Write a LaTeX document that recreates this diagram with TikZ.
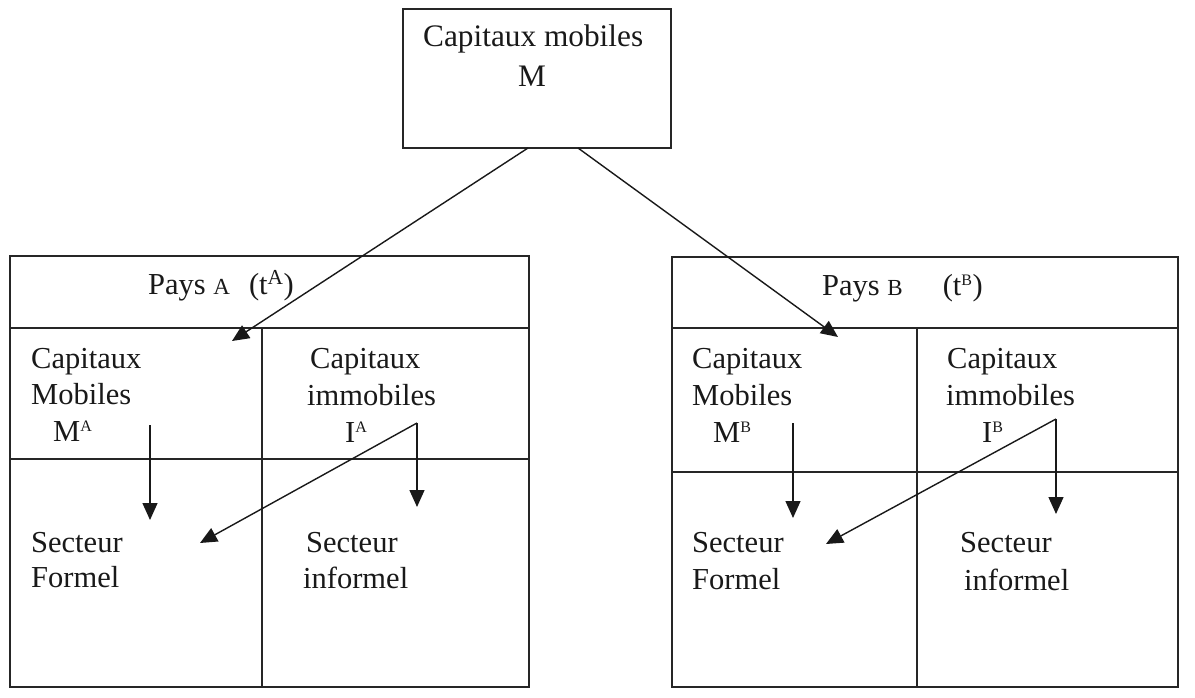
\documentclass[tikz,border=0pt]{standalone}
\usepackage{fontspec}
\setmainfont{Liberation Serif}
\usetikzlibrary{arrows.meta}
\begin{document}
\begin{tikzpicture}[x=1pt,y=-1pt,
  cell/.style={draw=black!85,line width=1.8pt,inner sep=0pt,outer sep=0pt,anchor=north west},
  lbl/.style={inner sep=0pt,anchor=base west,text=black!90,font=\fontsize{30.5}{36}\selectfont},
  flow/.style={draw=black!90,line width=1.4pt,-{Triangle[length=17pt,width=15pt]}}]
\useasboundingbox (0,0) rectangle (1195,698);
% top box
\node[cell,minimum width=268pt,minimum height=139pt] (top) at (403,9) {};
\node[lbl,font=\fontsize{31.3}{36}\selectfont] (topt1) at (423,47) {Capitaux mobiles};
\node[lbl,font=\fontsize{31.3}{36}\selectfont] (topt2) at (518,87) {M};
% country A
\node[cell,minimum width=519pt,minimum height=72pt] (Ahead) at (10,256) {};
\node[cell,minimum width=252pt,minimum height=131pt] (AMc) at (10,328) {};
\node[cell,minimum width=267pt,minimum height=131pt] (AIc) at (262,328) {};
\node[cell,minimum width=252pt,minimum height=228pt] (AFc) at (10,459) {};
\node[cell,minimum width=267pt,minimum height=228pt] (AInf) at (262,459) {};
\node[lbl] (Apays) at (148,294) {Pays {\fontsize{23}{23}\selectfont A}\hspace{19pt}(t\textsuperscript{A})};
\node[lbl] (AM1) at (31,368) {Capitaux};
\node[lbl] (AM2) at (31,404) {Mobiles};
\node[lbl] (AM3) at (53,441) {M\textsuperscript{\fontsize{16}{16}\selectfont A}};
\node[lbl] (AI1) at (310,368) {Capitaux};
\node[lbl] (AI2) at (307,405) {immobiles};
\node[lbl] (AI3) at (345,442) {I\textsuperscript{\fontsize{16}{16}\selectfont A}};
\node[lbl] (AS1) at (31,552) {Secteur};
\node[lbl] (AS2) at (31,587) {Formel};
\node[lbl] (AT1) at (306,552) {Secteur};
\node[lbl] (AT2) at (303,588) {informel};
% country B
\node[cell,minimum width=506pt,minimum height=71pt] (Bhead) at (672,257) {};
\node[cell,minimum width=245pt,minimum height=144pt] (BMc) at (672,328) {};
\node[cell,minimum width=261pt,minimum height=144pt] (BIc) at (917,328) {};
\node[cell,minimum width=245pt,minimum height=215pt] (BFc) at (672,472) {};
\node[cell,minimum width=261pt,minimum height=215pt] (BInf) at (917,472) {};
\node[lbl] (Bpays) at (822,295) {Pays {\fontsize{23}{23}\selectfont B}\hspace{40pt}(t\textsuperscript{\fontsize{16}{16}\selectfont B})};
\node[lbl] (BM1) at (692,368) {Capitaux};
\node[lbl] (BM2) at (692,405) {Mobiles};
\node[lbl] (BM3) at (713,442) {M\textsuperscript{\fontsize{16}{16}\selectfont B}};
\node[lbl] (BI1) at (947,368) {Capitaux};
\node[lbl] (BI2) at (946,405) {immobiles};
\node[lbl] (BI3) at (982,442) {I\textsuperscript{\fontsize{16}{16}\selectfont B}};
\node[lbl] (BS1) at (692,552) {Secteur};
\node[lbl] (BS2) at (692,589) {Formel};
\node[lbl] (BT1) at (960,552) {Secteur};
\node[lbl] (BT2) at (964,590) {informel};
% connector points
\coordinate (tA) at (528,148);
\coordinate (tB) at (578,148);
\coordinate (hA) at (232,341);
\coordinate (hB) at (838,337);
\coordinate (mAs) at (150,425);
\coordinate (mAe) at (150,520);
\coordinate (iAs) at (417,423);
\coordinate (iAe) at (417,507);
\coordinate (fA) at (200,543);
\coordinate (mBs) at (793,423);
\coordinate (mBe) at (793,518);
\coordinate (iBs) at (1056,419);
\coordinate (iBe) at (1056,514);
\coordinate (fB) at (826,544);
% arrows
\draw[flow] (tA) -- (hA);
\draw[flow] (tB) -- (hB);
\draw[flow] (mAs) -- (mAe);
\draw[flow] (iAs) -- (iAe);
\draw[flow] (iAs) -- (fA);
\draw[flow] (mBs) -- (mBe);
\draw[flow] (iBs) -- (iBe);
\draw[flow] (iBs) -- (fB);
\end{tikzpicture}
\end{document}
